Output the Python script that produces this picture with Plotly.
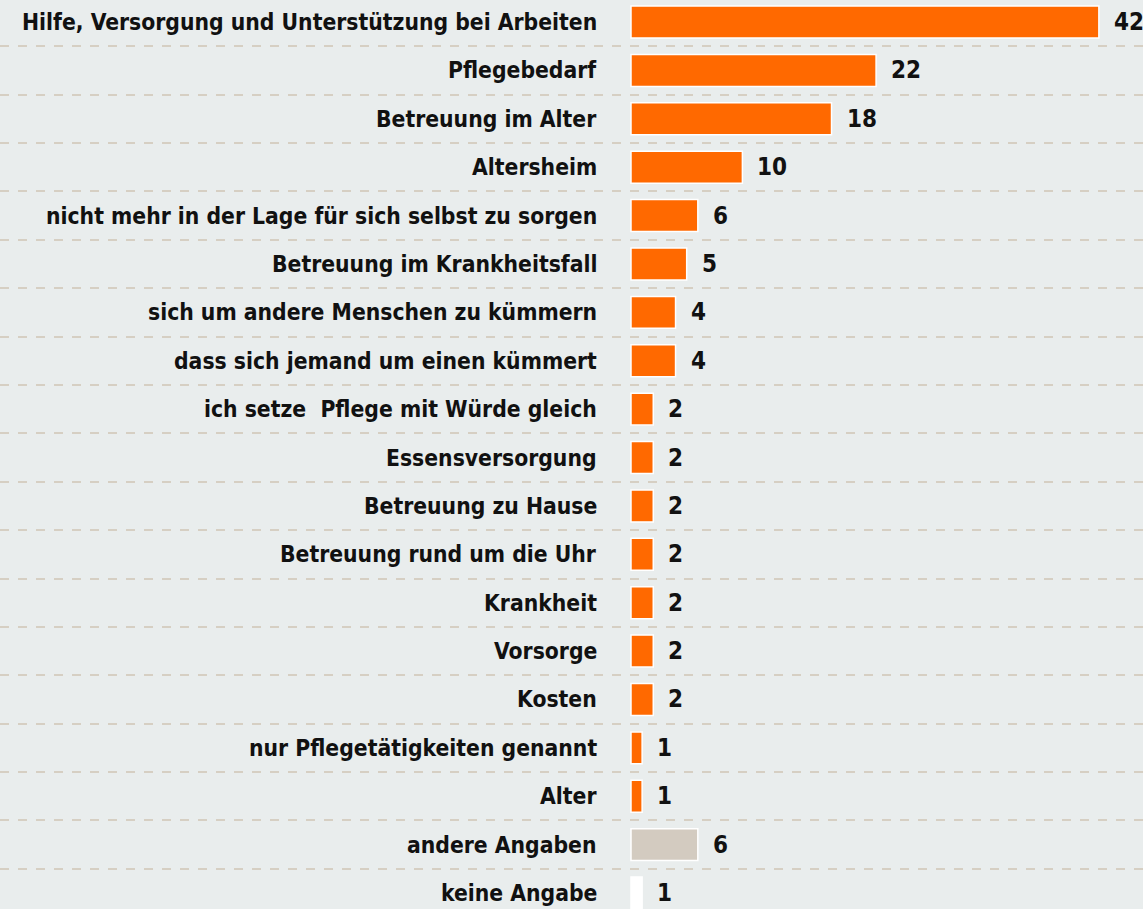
import plotly.graph_objects as go

# ===============================
# DATA
# ===============================
CATEGORIES = [
    "Hilfe, Versorgung und Unterstützung bei Arbeiten",
    "Pflegebedarf",
    "Betreuung im Alter",
    "Altersheim",
    "nicht mehr in der Lage für sich selbst zu sorgen",
    "Betreuung im Krankheitsfall",
    "sich um andere Menschen zu kümmern",
    "dass sich jemand um einen kümmert",
    "ich setze  Pflege mit Würde gleich",
    "Essensversorgung",
    "Betreuung zu Hause",
    "Betreuung rund um die Uhr",
    "Krankheit",
    "Vorsorge",
    "Kosten",
    "nur Pflegetätigkeiten genannt",
    "Alter",
    "andere Angaben",
    "keine Angabe",
]
VALUES = [42, 22, 18, 10, 6, 5, 4, 4, 2, 2, 2, 2, 2, 2, 2, 1, 1, 6, 1]

# ===============================
# STYLE
# ===============================
ORANGE = "#ff6900"
GREY = "#d3cbc0"
WHITE = "#ffffff"
BG = "#e9eded"
GRID = "#d6cfc3"
FONT = "DejaVu Sans Condensed"
FSIZE = 22.7

colors = [ORANGE] * 17 + [GREY, WHITE]

fig = go.Figure()
fig.add_bar(
    x=VALUES, y=CATEGORIES, orientation="h",
    marker=dict(color=colors, line=dict(color="white", width=1.5)),
    width=0.66, hoverinfo="skip",
)

annotations = []
for cat, val in zip(CATEGORIES, VALUES):
    annotations.append(dict(
        x=0, y=cat, xref="x", yref="y", text=f"<b>{cat}</b>",
        xanchor="right", yanchor="middle", xshift=-32, showarrow=False,
        font=dict(family=FONT, size=FSIZE, color="#111"),
    ))
    annotations.append(dict(
        x=val, y=cat, xref="x", yref="y", text=f"<b>{val}</b>",
        xanchor="left", yanchor="middle", xshift=13, showarrow=False,
        font=dict(family=FONT, size=24, color="#111"),
    ))

fig.update_layout(
    width=1143, height=909,
    margin=dict(l=0, r=0, t=0, b=0),
    paper_bgcolor=BG, plot_bgcolor=BG,
    showlegend=False,
    annotations=annotations,
    xaxis=dict(range=[-56.64, 45.96], showgrid=False, zeroline=False,
               showticklabels=False, fixedrange=True),
    yaxis=dict(type="category", range=[18.33, -0.455], tickson="boundaries",
               showgrid=True, gridcolor=GRID, gridwidth=2, griddash="dash",
               showticklabels=False, ticks="", zeroline=False),
)

# page has a default 8px body margin; drop it so the chart fills the window
fig.write_html("out.html", config={"displayModeBar": False},
               post_script="document.body.style.margin='0';")
